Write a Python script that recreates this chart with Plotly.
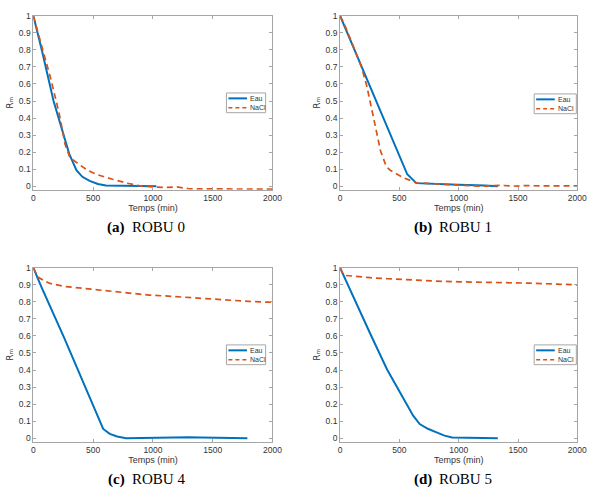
import plotly.graph_objects as go

# ---------------- data ----------------
x_ticks = [0, 500, 1000, 1500, 2000]
y_ticks = [0, 0.1, 0.2, 0.3, 0.4, 0.5, 0.6, 0.7, 0.8, 0.9, 1]
caption_tags = ["(a)", "(b)", "(c)", "(d)"]
caption_names = ["ROBU 0", "ROBU 1", "ROBU 4", "ROBU 5"]
series_names = ["Eau", "NaCl"]
y_title = "R\u2098"
x_title = "Temps (min)"

eau0_t = [0, 74, 169, 210, 251, 300, 360, 410, 470, 540, 606, 700, 800, 900, 1000, 1029]
eau0_y = [1, 0.79, 0.5, 0.4, 0.305, 0.19, 0.094, 0.055, 0.031, 0.013, 0.004, 0.004, 0.004, 0.004, 0.003, 0.0]
nacl0_t = [0, 20, 60, 142, 191, 224, 265, 306, 388, 450, 524, 590, 661, 797, 906, 1000, 1100, 1200, 1300, 1500, 1700, 2000]
nacl0_y = [1, 0.95, 0.85, 0.64, 0.5, 0.40, 0.246, 0.168, 0.125, 0.095, 0.07, 0.055, 0.041, 0.016, 0.0, -0.004, -0.008, -0.004, -0.015, -0.016, -0.017, -0.017]

eau1_t = [0, 217, 566, 643, 808, 1000, 1220, 1330]
eau1_y = [1, 0.643, 0.07, 0.018, 0.012, 0.008, 0.004, 0.0]
nacl1_t = [0, 30, 60, 120, 180, 225, 258, 300, 341, 382, 396, 423, 533, 643, 800, 1000, 1200, 1350, 1500, 1520, 1700, 1900, 2000]
nacl1_y = [1, 0.96, 0.91, 0.81, 0.70, 0.588, 0.48, 0.344, 0.207, 0.129, 0.11, 0.094, 0.05, 0.02, 0.012, 0.006, 0.0, 0.005, 0.0, 0.004, 0.002, 0.003, 0.002]

eau4_t = [0, 66, 257, 584, 639, 700, 775, 900, 1000, 1100, 1200, 1300, 1400, 1500, 1600, 1700, 1790]
eau4_y = [1, 0.89, 0.59, 0.054, 0.025, 0.01, 0.0, 0.002, 0.004, 0.006, 0.006, 0.005, 0.004, 0.002, 0.001, 0.0, -0.001]
nacl4_t = [0, 38, 100, 147, 257, 400, 530, 700, 803, 966, 1100, 1200, 1300, 1400, 1500, 1600, 1700, 1800, 1900, 2000]
nacl4_y = [1, 0.946, 0.92, 0.907, 0.891, 0.88, 0.872, 0.86, 0.853, 0.84, 0.835, 0.83, 0.825, 0.82, 0.815, 0.81, 0.807, 0.803, 0.8, 0.798]

eau5_t = [0, 148, 258, 396, 533, 616, 671, 740, 808, 880, 945, 1000, 1100, 1200, 1330]
eau5_y = [1, 0.771, 0.607, 0.403, 0.229, 0.132, 0.083, 0.055, 0.035, 0.015, 0.004, 0.003, 0.002, 0.001, 0.0]
nacl5_t = [0, 20, 52, 150, 258, 400, 533, 700, 808, 1000, 1200, 1385, 1600, 1800, 2000]
nacl5_y = [1, 0.97, 0.955, 0.947, 0.942, 0.936, 0.930, 0.925, 0.922, 0.918, 0.916, 0.913, 0.91, 0.905, 0.9]

panels = [(eau0_t, eau0_y, nacl0_t, nacl0_y),
          (eau1_t, eau1_y, nacl1_t, nacl1_y),
          (eau4_t, eau4_y, nacl4_t, nacl4_y),
          (eau5_t, eau5_y, nacl5_t, nacl5_y)]

# ---------------- layout helpers ----------------
W, H = 602, 504
BLUE = "#0072BD"
ORANGE = "#D95319"
AXC = "#a6a6a6"
TXT = "#333333"
DASH = "6px,4px"

# axes boxes in pixels: (left, right, top, bottom)
boxes = [(32, 276, 11, 187), (345, 587, 11, 187), (32, 276, 266, 442), (345, 587, 266, 442)]
# legend boxes in pixels: (left, top, width, height)
legend_boxes = [(229, 89, 40, 20), (543, 90, 43, 20), (229, 344, 40, 20), (543, 344, 43, 20)]
# caption split point (x between bold tag and name) and vertical centre
caption_pos = [(129, 225), (442, 225), (129, 480), (442, 480)]


def px(x):
    return x / W


def py(y):
    return 1 - y / H


fig = go.Figure()
layout = {}
shapes = []
annotations = []
for i, (et, ey, nt, ny) in enumerate(panels):
    n = "" if i == 0 else str(i + 1)
    fig.add_trace(go.Scatter(x=et, y=ey, mode="lines", name=series_names[0], showlegend=False,
                             line=dict(color=BLUE, width=2), xaxis="x" + n, yaxis="y" + n))
    fig.add_trace(go.Scatter(x=nt, y=ny, mode="lines", name=series_names[1], showlegend=False,
                             line=dict(color=ORANGE, width=1.7, dash=DASH), xaxis="x" + n, yaxis="y" + n))
    l, r, t, b = boxes[i]
    layout["xaxis" + n] = dict(domain=[l / W, r / W], range=[0, 2000], anchor="y" + n,
                               tickvals=x_ticks, ticks="inside", ticklen=3, tickcolor=AXC,
                               showline=True, linecolor=AXC, linewidth=1, mirror="ticks",
                               showgrid=False, zeroline=False,
                               tickfont=dict(family="Liberation Sans, Arial", size=8.5, color=TXT),
                               title=dict(text=x_title, standoff=2,
                                          font=dict(family="Liberation Sans, Arial", size=9, color=TXT)))
    layout["yaxis" + n] = dict(domain=[1 - b / H, 1 - t / H], range=[-0.021, 1], anchor="x" + n,
                               tickvals=y_ticks, ticktext=[("%g" % v) for v in y_ticks],
                               ticks="inside", ticklen=3, tickcolor=AXC,
                               showline=True, linecolor=AXC, linewidth=1, mirror="ticks",
                               showgrid=False, zeroline=False,
                               tickfont=dict(family="Liberation Sans, Arial", size=8.5, color=TXT),
                               title=dict(text=y_title, standoff=3,
                                          font=dict(family="DejaVu Sans, Liberation Sans", size=9, color=TXT)))

    # compact legend (drawn as shapes + text, MATLAB style)
    lx, ly, lw, lh = legend_boxes[i]
    shapes.append(dict(type="rect", xref="paper", yref="paper",
                       x0=px(lx), x1=px(lx + lw), y0=py(ly + lh), y1=py(ly),
                       line=dict(color=AXC, width=1), fillcolor="white", layer="above"))
    for k, (col, dash, wdt) in enumerate([(BLUE, "solid", 2), (ORANGE, "4px,3px", 1.5)]):
        yy = ly + 5.5 + k * 9.5
        shapes.append(dict(type="line", xref="paper", yref="paper",
                           x0=px(lx + 2), x1=px(lx + 21), y0=py(yy), y1=py(yy),
                           line=dict(color=col, width=wdt, dash=dash), layer="above"))
        annotations.append(dict(text=series_names[k], x=px(lx + 22), y=py(yy), xref="paper", yref="paper",
                                xanchor="left", yanchor="middle", showarrow=False,
                                font=dict(family="Liberation Sans, Arial", size=7, color=TXT)))

    # caption: bold tag + regular name
    cx, cy = caption_pos[i]
    annotations.append(dict(text=caption_tags[i], x=px(cx - 1.5), y=py(cy), xref="paper", yref="paper",
                            xanchor="right", yanchor="middle", showarrow=False,
                            font=dict(family="Liberation Serif, DejaVu Serif, serif", size=15,
                                      color="black", weight="bold")))
    annotations.append(dict(text=caption_names[i], x=px(cx + 1.5), y=py(cy), xref="paper", yref="paper",
                            xanchor="left", yanchor="middle", showarrow=False,
                            font=dict(family="Liberation Serif, DejaVu Serif, serif", size=15, color="black")))

fig.update_layout(width=W, height=H, margin=dict(l=0, r=0, t=0, b=0),
                  paper_bgcolor="white", plot_bgcolor="white",
                  showlegend=False, annotations=annotations, shapes=shapes, **layout)

fig.write_html("out.html")
